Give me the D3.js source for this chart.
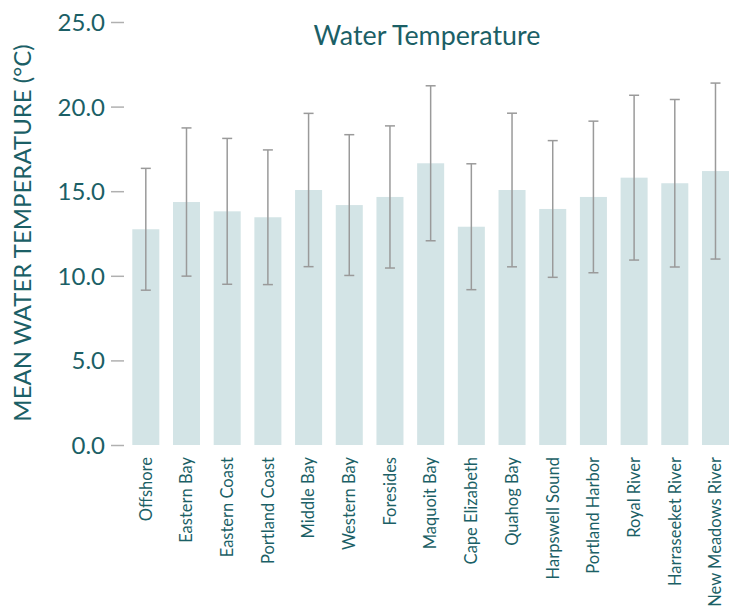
<!DOCTYPE html>
<html><head><meta charset="utf-8">
<script src="https://cdn.jsdelivr.net/npm/d3@7"></script>
<style>body{margin:0;background:#fff;} svg{display:block;}</style>
</head><body>
<svg id="c" width="730" height="609"></svg>
<script>
const categories = ["Offshore","Eastern Bay","Eastern Coast","Portland Coast","Middle Bay","Western Bay","Foresides","Maquoit Bay","Cape Elizabeth","Quahog Bay","Harpswell Sound","Portland Harbor","Royal River","Harraseeket River","New Meadows River"];
const means = [12.75,14.36,13.81,13.46,15.07,14.18,14.66,16.65,12.9,15.07,13.95,14.66,15.8,15.47,16.19];
const sds = [3.6,4.38,4.31,3.98,4.53,4.16,4.2,4.58,3.72,4.54,4.04,4.48,4.87,4.95,5.2];
const yTicks = [0,5,10,15,20,25];

const teal = "#1b5f66";
const font = "Lato, 'Open Sans', sans-serif";
const svg = d3.select("#c");

const y = d3.scaleLinear().domain([0,25]).range([445,22]);
const x = d3.scaleBand().domain(categories).range([132.3,729]).paddingInner(0.336).paddingOuter(0);

// bars
svg.append("g").selectAll("rect").data(categories).join("rect")
  .attr("x", d=>x(d)).attr("width", x.bandwidth())
  .attr("y", (d,i)=>y(means[i])).attr("height",(d,i)=>y(0)-y(means[i]))
  .attr("fill","#d3e4e6");

// error bars
const eb = svg.append("g").attr("stroke","#9a9a9a").attr("stroke-width",1.5);
categories.forEach((c,i)=>{
  const cx = x(c)+x.bandwidth()/2;
  const lo = y(means[i]-sds[i]), hi = y(means[i]+sds[i]);
  eb.append("line").attr("x1",cx).attr("x2",cx).attr("y1",lo).attr("y2",hi);
  eb.append("line").attr("x1",cx-5).attr("x2",cx+5).attr("y1",lo).attr("y2",lo);
  eb.append("line").attr("x1",cx-5).attr("x2",cx+5).attr("y1",hi).attr("y2",hi);
});

// y axis
const ya = svg.append("g").attr("transform","translate(124,0)")
  .call(d3.axisLeft(y).tickValues(yTicks).tickFormat(d3.format(".1f")).tickSize(13).tickPadding(6));
ya.select(".domain").remove();
ya.selectAll(".tick line").attr("stroke","#b0b0b0").attr("stroke-width",1.5);
ya.selectAll(".tick text").attr("fill",teal).attr("font-family",font).attr("font-size",24).attr("dy","0.35em");

// x axis labels
const xa = svg.append("g").attr("transform","translate(0,445)")
  .call(d3.axisBottom(x).tickSize(0).tickPadding(0));
xa.select(".domain").remove();
xa.selectAll(".tick text").attr("fill",teal).attr("font-family",font).attr("font-size",16.5)
  .attr("text-anchor","end").attr("transform","rotate(-90)").attr("x",-12).attr("y",0).attr("dy","0.35em");

// titles
svg.append("text").attr("x",427).attr("y",45).attr("text-anchor","middle")
  .attr("fill",teal).attr("font-family",font).attr("font-size",26.8).text("Water Temperature");
svg.append("text").attr("transform","translate(31,233) rotate(-90)").attr("text-anchor","middle")
  .attr("fill",teal).attr("font-family",font).attr("font-size",24).text("MEAN WATER TEMPERATURE (°C)");
</script>
</body></html>
